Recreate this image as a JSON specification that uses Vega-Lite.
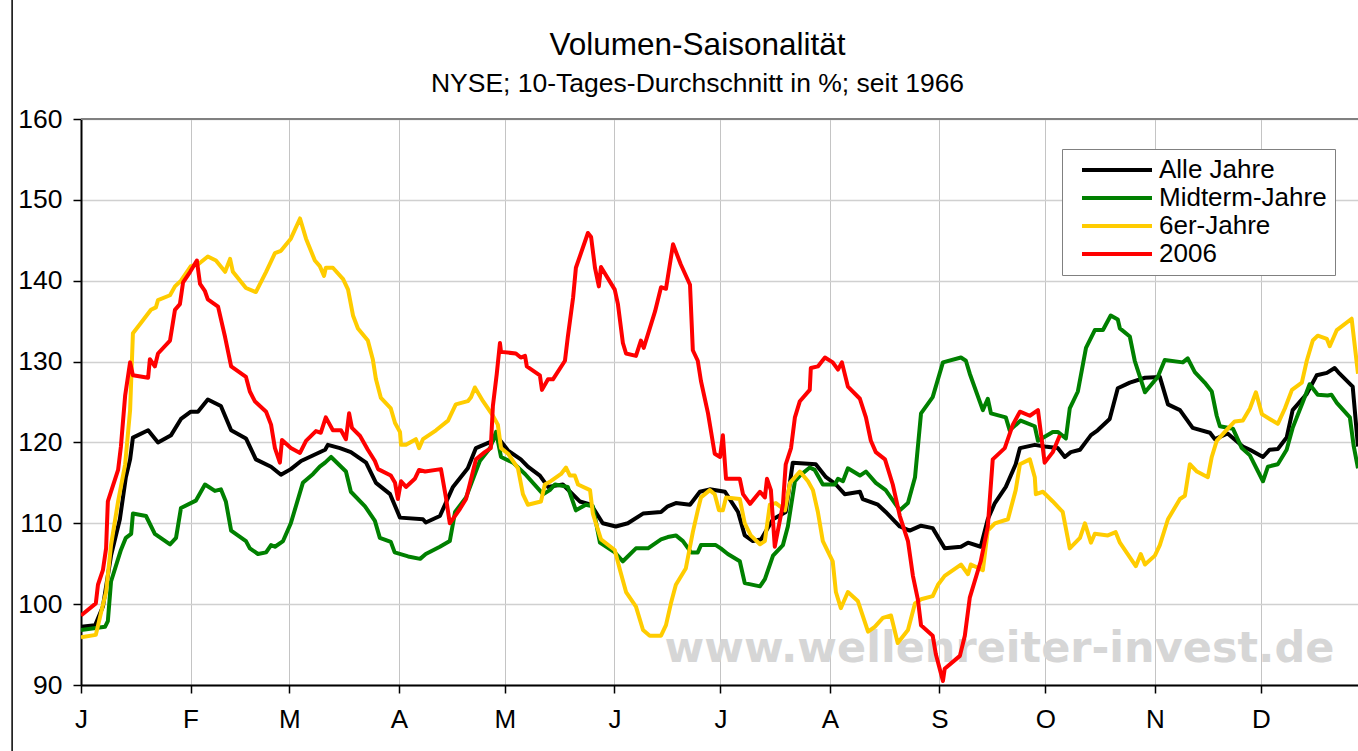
{
"$schema":"https://vega.github.io/schema/vega-lite/v6.json",
"width":1277,"height":566,
"autosize":{"type":"none"},
"padding":{"left":81,"top":119,"right":0,"bottom":66},
"background":"white",
"config":{"view":{"stroke":null},"font":"Liberation Sans"},
"title":{"text":"Volumen-Saisonalität","subtitle":"NYSE; 10-Tages-Durchschnitt in %; seit 1966","anchor":"middle","dx":-22,"dy":101,"offset":0,"fontSize":31.5,"fontWeight":"normal","font":"Liberation Sans","color":"black","subtitleFont":"Liberation Sans","subtitleFontSize":26.5,"subtitleColor":"black","subtitlePadding":10},
"datasets":{"serien":[
{"Reihe":"Alle Jahre","Tag":0,"Wert":97.2},{"Reihe":"Alle Jahre","Tag":4.0,"Wert":97.4},{"Reihe":"Alle Jahre","Tag":6.2,"Wert":99.7},{"Reihe":"Alle Jahre","Tag":8.5,"Wert":106.0},{"Reihe":"Alle Jahre","Tag":11.0,"Wert":110.5},{"Reihe":"Alle Jahre","Tag":12.7,"Wert":115.7},{"Reihe":"Alle Jahre","Tag":13.9,"Wert":117.9},{"Reihe":"Alle Jahre","Tag":14.7,"Wert":120.6},{"Reihe":"Alle Jahre","Tag":19.0,"Wert":121.5},{"Reihe":"Alle Jahre","Tag":21.8,"Wert":120.0},{"Reihe":"Alle Jahre","Tag":25.5,"Wert":120.9},{"Reihe":"Alle Jahre","Tag":28.3,"Wert":122.9},{"Reihe":"Alle Jahre","Tag":31.1,"Wert":123.8},{"Reihe":"Alle Jahre","Tag":33.1,"Wert":123.8},{"Reihe":"Alle Jahre","Tag":35.9,"Wert":125.3},{"Reihe":"Alle Jahre","Tag":39.6,"Wert":124.5},{"Reihe":"Alle Jahre","Tag":42.5,"Wert":121.5},{"Reihe":"Alle Jahre","Tag":46.7,"Wert":120.5},{"Reihe":"Alle Jahre","Tag":49.5,"Wert":117.9},{"Reihe":"Alle Jahre","Tag":53.8,"Wert":117.0},{"Reihe":"Alle Jahre","Tag":56.6,"Wert":116.0},{"Reihe":"Alle Jahre","Tag":59.4,"Wert":116.7},{"Reihe":"Alle Jahre","Tag":62.3,"Wert":117.7},{"Reihe":"Alle Jahre","Tag":69.1,"Wert":119.1},{"Reihe":"Alle Jahre","Tag":69.9,"Wert":119.7},{"Reihe":"Alle Jahre","Tag":73.3,"Wert":119.3},{"Reihe":"Alle Jahre","Tag":76.4,"Wert":118.8},{"Reihe":"Alle Jahre","Tag":80.7,"Wert":117.5},{"Reihe":"Alle Jahre","Tag":83.5,"Wert":115.0},{"Reihe":"Alle Jahre","Tag":87.5,"Wert":113.6},{"Reihe":"Alle Jahre","Tag":90.3,"Wert":110.7},{"Reihe":"Alle Jahre","Tag":96.8,"Wert":110.5},{"Reihe":"Alle Jahre","Tag":97.6,"Wert":110.1},{"Reihe":"Alle Jahre","Tag":101.6,"Wert":110.9},{"Reihe":"Alle Jahre","Tag":105.3,"Wert":114.5},{"Reihe":"Alle Jahre","Tag":109.5,"Wert":116.8},{"Reihe":"Alle Jahre","Tag":111.8,"Wert":119.3},{"Reihe":"Alle Jahre","Tag":116.6,"Wert":120.2},{"Reihe":"Alle Jahre","Tag":117.5,"Wert":120.9},{"Reihe":"Alle Jahre","Tag":120.9,"Wert":119.0},{"Reihe":"Alle Jahre","Tag":124.5,"Wert":117.9},{"Reihe":"Alle Jahre","Tag":126.5,"Wert":117.0},{"Reihe":"Alle Jahre","Tag":129.9,"Wert":115.9},{"Reihe":"Alle Jahre","Tag":132.2,"Wert":114.5},{"Reihe":"Alle Jahre","Tag":136.4,"Wert":114.8},{"Reihe":"Alle Jahre","Tag":141.2,"Wert":112.7},{"Reihe":"Alle Jahre","Tag":144.4,"Wert":112.3},{"Reihe":"Alle Jahre","Tag":147.7,"Wert":110.0},{"Reihe":"Alle Jahre","Tag":151.4,"Wert":109.6},{"Reihe":"Alle Jahre","Tag":154.8,"Wert":110.0},{"Reihe":"Alle Jahre","Tag":159.1,"Wert":111.2},{"Reihe":"Alle Jahre","Tag":164.2,"Wert":111.4},{"Reihe":"Alle Jahre","Tag":166.1,"Wert":112.1},{"Reihe":"Alle Jahre","Tag":168.4,"Wert":112.5},{"Reihe":"Alle Jahre","Tag":172.4,"Wert":112.3},{"Reihe":"Alle Jahre","Tag":175.2,"Wert":113.9},{"Reihe":"Alle Jahre","Tag":178.0,"Wert":114.2},{"Reihe":"Alle Jahre","Tag":182.3,"Wert":113.9},{"Reihe":"Alle Jahre","Tag":186.0,"Wert":111.4},{"Reihe":"Alle Jahre","Tag":187.9,"Wert":108.5},{"Reihe":"Alle Jahre","Tag":190.2,"Wert":107.8},{"Reihe":"Alle Jahre","Tag":192.5,"Wert":108.0},{"Reihe":"Alle Jahre","Tag":195.9,"Wert":110.5},{"Reihe":"Alle Jahre","Tag":199.5,"Wert":111.4},{"Reihe":"Alle Jahre","Tag":201.5,"Wert":117.5},{"Reihe":"Alle Jahre","Tag":208.0,"Wert":117.3},{"Reihe":"Alle Jahre","Tag":210.9,"Wert":115.7},{"Reihe":"Alle Jahre","Tag":213.7,"Wert":114.8},{"Reihe":"Alle Jahre","Tag":216.2,"Wert":113.6},{"Reihe":"Alle Jahre","Tag":220.5,"Wert":113.9},{"Reihe":"Alle Jahre","Tag":221.3,"Wert":113.0},{"Reihe":"Alle Jahre","Tag":225.6,"Wert":112.3},{"Reihe":"Alle Jahre","Tag":227.8,"Wert":111.4},{"Reihe":"Alle Jahre","Tag":231.8,"Wert":109.6},{"Reihe":"Alle Jahre","Tag":234.6,"Wert":109.1},{"Reihe":"Alle Jahre","Tag":237.8,"Wert":109.7},{"Reihe":"Alle Jahre","Tag":241.1,"Wert":109.4},{"Reihe":"Alle Jahre","Tag":244.5,"Wert":106.9},{"Reihe":"Alle Jahre","Tag":249.1,"Wert":107.1},{"Reihe":"Alle Jahre","Tag":251.1,"Wert":107.6},{"Reihe":"Alle Jahre","Tag":254.7,"Wert":107.1},{"Reihe":"Alle Jahre","Tag":256.7,"Wert":110.5},{"Reihe":"Alle Jahre","Tag":258.7,"Wert":112.5},{"Reihe":"Alle Jahre","Tag":261.8,"Wert":114.5},{"Reihe":"Alle Jahre","Tag":264.6,"Wert":117.3},{"Reihe":"Alle Jahre","Tag":265.8,"Wert":119.3},{"Reihe":"Alle Jahre","Tag":270.0,"Wert":119.7},{"Reihe":"Alle Jahre","Tag":272.8,"Wert":119.5},{"Reihe":"Alle Jahre","Tag":276.5,"Wert":119.3},{"Reihe":"Alle Jahre","Tag":278.5,"Wert":118.2},{"Reihe":"Alle Jahre","Tag":280.2,"Wert":118.8},{"Reihe":"Alle Jahre","Tag":282.8,"Wert":119.1},{"Reihe":"Alle Jahre","Tag":285.9,"Wert":120.9},{"Reihe":"Alle Jahre","Tag":287.8,"Wert":121.5},{"Reihe":"Alle Jahre","Tag":291.2,"Wert":122.9},{"Reihe":"Alle Jahre","Tag":293.5,"Wert":126.7},{"Reihe":"Alle Jahre","Tag":296.9,"Wert":127.4},{"Reihe":"Alle Jahre","Tag":301.2,"Wert":128.0},{"Reihe":"Alle Jahre","Tag":305.4,"Wert":128.1},{"Reihe":"Alle Jahre","Tag":307.7,"Wert":124.7},{"Reihe":"Alle Jahre","Tag":311.1,"Wert":124.0},{"Reihe":"Alle Jahre","Tag":314.7,"Wert":121.8},{"Reihe":"Alle Jahre","Tag":319.6,"Wert":121.2},{"Reihe":"Alle Jahre","Tag":321.0,"Wert":120.4},{"Reihe":"Alle Jahre","Tag":324.6,"Wert":121.1},{"Reihe":"Alle Jahre","Tag":328.9,"Wert":119.5},{"Reihe":"Alle Jahre","Tag":330.9,"Wert":119.1},{"Reihe":"Alle Jahre","Tag":334.6,"Wert":118.2},{"Reihe":"Alle Jahre","Tag":336.5,"Wert":119.1},{"Reihe":"Alle Jahre","Tag":338.8,"Wert":119.2},{"Reihe":"Alle Jahre","Tag":341.3,"Wert":120.6},{"Reihe":"Alle Jahre","Tag":343.0,"Wert":124.0},{"Reihe":"Alle Jahre","Tag":347.0,"Wert":126.0},{"Reihe":"Alle Jahre","Tag":349.8,"Wert":128.3},{"Reihe":"Alle Jahre","Tag":352.7,"Wert":128.6},{"Reihe":"Alle Jahre","Tag":354.9,"Wert":129.2},{"Reihe":"Alle Jahre","Tag":356.3,"Wert":128.5},{"Reihe":"Alle Jahre","Tag":360.0,"Wert":126.9},{"Reihe":"Alle Jahre","Tag":361.5,"Wert":119.5},
{"Reihe":"Midterm-Jahre","Tag":0,"Wert":96.8},{"Reihe":"Midterm-Jahre","Tag":6.8,"Wert":97.2},{"Reihe":"Midterm-Jahre","Tag":7.6,"Wert":97.9},{"Reihe":"Midterm-Jahre","Tag":8.5,"Wert":102.8},{"Reihe":"Midterm-Jahre","Tag":11.3,"Wert":106.7},{"Reihe":"Midterm-Jahre","Tag":12.7,"Wert":108.2},{"Reihe":"Midterm-Jahre","Tag":14.2,"Wert":108.7},{"Reihe":"Midterm-Jahre","Tag":14.7,"Wert":111.2},{"Reihe":"Midterm-Jahre","Tag":18.4,"Wert":110.9},{"Reihe":"Midterm-Jahre","Tag":20.9,"Wert":108.7},{"Reihe":"Midterm-Jahre","Tag":25.2,"Wert":107.4},{"Reihe":"Midterm-Jahre","Tag":26.9,"Wert":108.2},{"Reihe":"Midterm-Jahre","Tag":28.3,"Wert":111.9},{"Reihe":"Midterm-Jahre","Tag":32.5,"Wert":112.8},{"Reihe":"Midterm-Jahre","Tag":35.1,"Wert":114.8},{"Reihe":"Midterm-Jahre","Tag":37.9,"Wert":114.0},{"Reihe":"Midterm-Jahre","Tag":39.6,"Wert":114.2},{"Reihe":"Midterm-Jahre","Tag":41.0,"Wert":112.7},{"Reihe":"Midterm-Jahre","Tag":42.5,"Wert":109.1},{"Reihe":"Midterm-Jahre","Tag":46.7,"Wert":107.8},{"Reihe":"Midterm-Jahre","Tag":47.8,"Wert":106.9},{"Reihe":"Midterm-Jahre","Tag":50.1,"Wert":106.2},{"Reihe":"Midterm-Jahre","Tag":52.4,"Wert":106.4},{"Reihe":"Midterm-Jahre","Tag":53.8,"Wert":107.3},{"Reihe":"Midterm-Jahre","Tag":54.9,"Wert":107.1},{"Reihe":"Midterm-Jahre","Tag":57.2,"Wert":107.8},{"Reihe":"Midterm-Jahre","Tag":59.4,"Wert":110.0},{"Reihe":"Midterm-Jahre","Tag":62.8,"Wert":115.0},{"Reihe":"Midterm-Jahre","Tag":65.7,"Wert":116.1},{"Reihe":"Midterm-Jahre","Tag":67.6,"Wert":117.0},{"Reihe":"Midterm-Jahre","Tag":69.1,"Wert":117.5},{"Reihe":"Midterm-Jahre","Tag":70.8,"Wert":118.2},{"Reihe":"Midterm-Jahre","Tag":75.0,"Wert":116.4},{"Reihe":"Midterm-Jahre","Tag":76.4,"Wert":113.9},{"Reihe":"Midterm-Jahre","Tag":80.4,"Wert":112.1},{"Reihe":"Midterm-Jahre","Tag":83.2,"Wert":110.3},{"Reihe":"Midterm-Jahre","Tag":84.6,"Wert":108.2},{"Reihe":"Midterm-Jahre","Tag":87.7,"Wert":107.7},{"Reihe":"Midterm-Jahre","Tag":88.8,"Wert":106.4},{"Reihe":"Midterm-Jahre","Tag":92.6,"Wert":105.9},{"Reihe":"Midterm-Jahre","Tag":96.0,"Wert":105.6},{"Reihe":"Midterm-Jahre","Tag":97.6,"Wert":106.2},{"Reihe":"Midterm-Jahre","Tag":101.6,"Wert":107.1},{"Reihe":"Midterm-Jahre","Tag":104.4,"Wert":107.8},{"Reihe":"Midterm-Jahre","Tag":105.9,"Wert":111.4},{"Reihe":"Midterm-Jahre","Tag":109.0,"Wert":113.2},{"Reihe":"Midterm-Jahre","Tag":112.9,"Wert":117.7},{"Reihe":"Midterm-Jahre","Tag":115.8,"Wert":119.3},{"Reihe":"Midterm-Jahre","Tag":117.5,"Wert":121.3},{"Reihe":"Midterm-Jahre","Tag":118.9,"Wert":118.2},{"Reihe":"Midterm-Jahre","Tag":122.3,"Wert":117.5},{"Reihe":"Midterm-Jahre","Tag":125.7,"Wert":116.1},{"Reihe":"Midterm-Jahre","Tag":130.8,"Wert":113.6},{"Reihe":"Midterm-Jahre","Tag":132.7,"Wert":114.1},{"Reihe":"Midterm-Jahre","Tag":134.2,"Wert":114.8},{"Reihe":"Midterm-Jahre","Tag":137.8,"Wert":114.5},{"Reihe":"Midterm-Jahre","Tag":140.1,"Wert":111.6},{"Reihe":"Midterm-Jahre","Tag":142.9,"Wert":112.3},{"Reihe":"Midterm-Jahre","Tag":144.9,"Wert":112.1},{"Reihe":"Midterm-Jahre","Tag":146.9,"Wert":107.6},{"Reihe":"Midterm-Jahre","Tag":151.1,"Wert":106.4},{"Reihe":"Midterm-Jahre","Tag":153.4,"Wert":105.3},{"Reihe":"Midterm-Jahre","Tag":157.1,"Wert":106.9},{"Reihe":"Midterm-Jahre","Tag":160.5,"Wert":106.9},{"Reihe":"Midterm-Jahre","Tag":164.2,"Wert":108.0},{"Reihe":"Midterm-Jahre","Tag":166.1,"Wert":108.3},{"Reihe":"Midterm-Jahre","Tag":168.4,"Wert":108.5},{"Reihe":"Midterm-Jahre","Tag":170.4,"Wert":107.8},{"Reihe":"Midterm-Jahre","Tag":172.7,"Wert":106.4},{"Reihe":"Midterm-Jahre","Tag":174.6,"Wert":106.4},{"Reihe":"Midterm-Jahre","Tag":175.5,"Wert":107.3},{"Reihe":"Midterm-Jahre","Tag":179.7,"Wert":107.3},{"Reihe":"Midterm-Jahre","Tag":181.1,"Wert":106.9},{"Reihe":"Midterm-Jahre","Tag":183.1,"Wert":106.2},{"Reihe":"Midterm-Jahre","Tag":186.5,"Wert":105.3},{"Reihe":"Midterm-Jahre","Tag":187.9,"Wert":102.6},{"Reihe":"Midterm-Jahre","Tag":192.2,"Wert":102.2},{"Reihe":"Midterm-Jahre","Tag":193.6,"Wert":103.1},{"Reihe":"Midterm-Jahre","Tag":195.9,"Wert":106.0},{"Reihe":"Midterm-Jahre","Tag":198.7,"Wert":107.3},{"Reihe":"Midterm-Jahre","Tag":200.1,"Wert":109.6},{"Reihe":"Midterm-Jahre","Tag":202.1,"Wert":115.2},{"Reihe":"Midterm-Jahre","Tag":203.5,"Wert":115.9},{"Reihe":"Midterm-Jahre","Tag":206.3,"Wert":116.9},{"Reihe":"Midterm-Jahre","Tag":207.7,"Wert":116.6},{"Reihe":"Midterm-Jahre","Tag":210.0,"Wert":114.8},{"Reihe":"Midterm-Jahre","Tag":213.4,"Wert":114.8},{"Reihe":"Midterm-Jahre","Tag":214.3,"Wert":115.5},{"Reihe":"Midterm-Jahre","Tag":215.7,"Wert":115.2},{"Reihe":"Midterm-Jahre","Tag":217.1,"Wert":116.8},{"Reihe":"Midterm-Jahre","Tag":220.5,"Wert":115.9},{"Reihe":"Midterm-Jahre","Tag":222.2,"Wert":116.4},{"Reihe":"Midterm-Jahre","Tag":225.0,"Wert":115.0},{"Reihe":"Midterm-Jahre","Tag":227.8,"Wert":114.1},{"Reihe":"Midterm-Jahre","Tag":231.8,"Wert":111.6},{"Reihe":"Midterm-Jahre","Tag":234.1,"Wert":112.5},{"Reihe":"Midterm-Jahre","Tag":236.1,"Wert":115.7},{"Reihe":"Midterm-Jahre","Tag":237.8,"Wert":123.6},{"Reihe":"Midterm-Jahre","Tag":241.1,"Wert":125.6},{"Reihe":"Midterm-Jahre","Tag":244.0,"Wert":129.9},{"Reihe":"Midterm-Jahre","Tag":249.1,"Wert":130.5},{"Reihe":"Midterm-Jahre","Tag":250.5,"Wert":130.1},{"Reihe":"Midterm-Jahre","Tag":251.6,"Wert":128.5},{"Reihe":"Midterm-Jahre","Tag":255.3,"Wert":124.0},{"Reihe":"Midterm-Jahre","Tag":256.7,"Wert":125.4},{"Reihe":"Midterm-Jahre","Tag":257.6,"Wert":123.6},{"Reihe":"Midterm-Jahre","Tag":261.8,"Wert":123.1},{"Reihe":"Midterm-Jahre","Tag":262.9,"Wert":121.5},{"Reihe":"Midterm-Jahre","Tag":266.0,"Wert":122.7},{"Reihe":"Midterm-Jahre","Tag":270.0,"Wert":122.0},{"Reihe":"Midterm-Jahre","Tag":270.9,"Wert":120.2},{"Reihe":"Midterm-Jahre","Tag":275.1,"Wert":121.3},{"Reihe":"Midterm-Jahre","Tag":276.5,"Wert":121.3},{"Reihe":"Midterm-Jahre","Tag":278.8,"Wert":120.5},{"Reihe":"Midterm-Jahre","Tag":279.9,"Wert":124.2},{"Reihe":"Midterm-Jahre","Tag":282.2,"Wert":126.3},{"Reihe":"Midterm-Jahre","Tag":284.5,"Wert":131.7},{"Reihe":"Midterm-Jahre","Tag":287.0,"Wert":133.9},{"Reihe":"Midterm-Jahre","Tag":289.3,"Wert":133.9},{"Reihe":"Midterm-Jahre","Tag":291.5,"Wert":135.7},{"Reihe":"Midterm-Jahre","Tag":293.5,"Wert":135.2},{"Reihe":"Midterm-Jahre","Tag":294.1,"Wert":134.1},{"Reihe":"Midterm-Jahre","Tag":296.9,"Wert":133.1},{"Reihe":"Midterm-Jahre","Tag":298.3,"Wert":130.1},{"Reihe":"Midterm-Jahre","Tag":301.2,"Wert":126.2},{"Reihe":"Midterm-Jahre","Tag":304.8,"Wert":128.1},{"Reihe":"Midterm-Jahre","Tag":306.8,"Wert":130.2},{"Reihe":"Midterm-Jahre","Tag":311.9,"Wert":129.9},{"Reihe":"Midterm-Jahre","Tag":313.3,"Wert":130.4},{"Reihe":"Midterm-Jahre","Tag":315.3,"Wert":128.7},{"Reihe":"Midterm-Jahre","Tag":318.1,"Wert":127.4},{"Reihe":"Midterm-Jahre","Tag":320.1,"Wert":126.3},{"Reihe":"Midterm-Jahre","Tag":321.5,"Wert":123.3},{"Reihe":"Midterm-Jahre","Tag":322.4,"Wert":122.0},{"Reihe":"Midterm-Jahre","Tag":326.1,"Wert":121.7},{"Reihe":"Midterm-Jahre","Tag":328.6,"Wert":119.3},{"Reihe":"Midterm-Jahre","Tag":330.9,"Wert":118.4},{"Reihe":"Midterm-Jahre","Tag":334.6,"Wert":115.2},{"Reihe":"Midterm-Jahre","Tag":336.0,"Wert":117.0},{"Reihe":"Midterm-Jahre","Tag":338.8,"Wert":117.3},{"Reihe":"Midterm-Jahre","Tag":341.3,"Wert":119.1},{"Reihe":"Midterm-Jahre","Tag":343.0,"Wert":121.8},{"Reihe":"Midterm-Jahre","Tag":345.8,"Wert":124.9},{"Reihe":"Midterm-Jahre","Tag":347.8,"Wert":127.2},{"Reihe":"Midterm-Jahre","Tag":350.1,"Wert":125.9},{"Reihe":"Midterm-Jahre","Tag":352.9,"Wert":125.8},{"Reihe":"Midterm-Jahre","Tag":354.0,"Wert":125.9},{"Reihe":"Midterm-Jahre","Tag":355.5,"Wert":124.9},{"Reihe":"Midterm-Jahre","Tag":359.2,"Wert":123.1},{"Reihe":"Midterm-Jahre","Tag":360.3,"Wert":119.5},{"Reihe":"Midterm-Jahre","Tag":361.5,"Wert":116.8},
{"Reihe":"6er-Jahre","Tag":0,"Wert":95.9},{"Reihe":"6er-Jahre","Tag":4.2,"Wert":96.2},{"Reihe":"6er-Jahre","Tag":5.7,"Wert":99.0},{"Reihe":"6er-Jahre","Tag":7.1,"Wert":101.5},{"Reihe":"6er-Jahre","Tag":8.5,"Wert":107.3},{"Reihe":"6er-Jahre","Tag":10.5,"Wert":112.7},{"Reihe":"6er-Jahre","Tag":12.5,"Wert":117.3},{"Reihe":"6er-Jahre","Tag":13.9,"Wert":124.0},{"Reihe":"6er-Jahre","Tag":14.7,"Wert":133.5},{"Reihe":"6er-Jahre","Tag":17.0,"Wert":134.8},{"Reihe":"6er-Jahre","Tag":19.8,"Wert":136.4},{"Reihe":"6er-Jahre","Tag":21.2,"Wert":136.7},{"Reihe":"6er-Jahre","Tag":21.8,"Wert":137.6},{"Reihe":"6er-Jahre","Tag":25.2,"Wert":138.2},{"Reihe":"6er-Jahre","Tag":26.6,"Wert":139.3},{"Reihe":"6er-Jahre","Tag":28.3,"Wert":140.0},{"Reihe":"6er-Jahre","Tag":31.1,"Wert":141.8},{"Reihe":"6er-Jahre","Tag":33.1,"Wert":142.0},{"Reihe":"6er-Jahre","Tag":35.9,"Wert":143.0},{"Reihe":"6er-Jahre","Tag":38.2,"Wert":142.5},{"Reihe":"6er-Jahre","Tag":40.8,"Wert":141.1},{"Reihe":"6er-Jahre","Tag":42.2,"Wert":142.7},{"Reihe":"6er-Jahre","Tag":43.0,"Wert":141.1},{"Reihe":"6er-Jahre","Tag":46.7,"Wert":139.1},{"Reihe":"6er-Jahre","Tag":49.5,"Wert":138.6},{"Reihe":"6er-Jahre","Tag":52.4,"Wert":141.1},{"Reihe":"6er-Jahre","Tag":54.9,"Wert":143.4},{"Reihe":"6er-Jahre","Tag":56.6,"Wert":143.7},{"Reihe":"6er-Jahre","Tag":59.4,"Wert":145.2},{"Reihe":"6er-Jahre","Tag":62.0,"Wert":147.7},{"Reihe":"6er-Jahre","Tag":63.7,"Wert":145.2},{"Reihe":"6er-Jahre","Tag":66.2,"Wert":142.5},{"Reihe":"6er-Jahre","Tag":67.6,"Wert":141.8},{"Reihe":"6er-Jahre","Tag":68.8,"Wert":140.6},{"Reihe":"6er-Jahre","Tag":69.3,"Wert":141.6},{"Reihe":"6er-Jahre","Tag":71.3,"Wert":141.6},{"Reihe":"6er-Jahre","Tag":74.2,"Wert":140.2},{"Reihe":"6er-Jahre","Tag":75.6,"Wert":138.9},{"Reihe":"6er-Jahre","Tag":77.0,"Wert":135.7},{"Reihe":"6er-Jahre","Tag":78.4,"Wert":134.1},{"Reihe":"6er-Jahre","Tag":81.2,"Wert":132.6},{"Reihe":"6er-Jahre","Tag":82.6,"Wert":130.3},{"Reihe":"6er-Jahre","Tag":83.5,"Wert":127.8},{"Reihe":"6er-Jahre","Tag":84.9,"Wert":125.5},{"Reihe":"6er-Jahre","Tag":87.7,"Wert":124.2},{"Reihe":"6er-Jahre","Tag":88.9,"Wert":122.4},{"Reihe":"6er-Jahre","Tag":90.3,"Wert":121.3},{"Reihe":"6er-Jahre","Tag":90.6,"Wert":119.7},{"Reihe":"6er-Jahre","Tag":92.0,"Wert":119.7},{"Reihe":"6er-Jahre","Tag":94.8,"Wert":120.4},{"Reihe":"6er-Jahre","Tag":95.7,"Wert":119.3},{"Reihe":"6er-Jahre","Tag":96.8,"Wert":120.4},{"Reihe":"6er-Jahre","Tag":100.5,"Wert":121.5},{"Reihe":"6er-Jahre","Tag":103.9,"Wert":122.7},{"Reihe":"6er-Jahre","Tag":106.1,"Wert":124.7},{"Reihe":"6er-Jahre","Tag":109.5,"Wert":125.1},{"Reihe":"6er-Jahre","Tag":110.4,"Wert":125.6},{"Reihe":"6er-Jahre","Tag":111.5,"Wert":126.8},{"Reihe":"6er-Jahre","Tag":113.8,"Wert":125.1},{"Reihe":"6er-Jahre","Tag":116.6,"Wert":123.3},{"Reihe":"6er-Jahre","Tag":118.0,"Wert":122.2},{"Reihe":"6er-Jahre","Tag":118.9,"Wert":119.3},{"Reihe":"6er-Jahre","Tag":120.9,"Wert":118.6},{"Reihe":"6er-Jahre","Tag":123.7,"Wert":116.8},{"Reihe":"6er-Jahre","Tag":125.1,"Wert":113.6},{"Reihe":"6er-Jahre","Tag":126.5,"Wert":112.3},{"Reihe":"6er-Jahre","Tag":130.2,"Wert":112.7},{"Reihe":"6er-Jahre","Tag":131.3,"Wert":114.8},{"Reihe":"6er-Jahre","Tag":133.0,"Wert":115.2},{"Reihe":"6er-Jahre","Tag":135.9,"Wert":116.1},{"Reihe":"6er-Jahre","Tag":137.3,"Wert":116.9},{"Reihe":"6er-Jahre","Tag":138.4,"Wert":115.9},{"Reihe":"6er-Jahre","Tag":139.8,"Wert":115.9},{"Reihe":"6er-Jahre","Tag":140.7,"Wert":114.8},{"Reihe":"6er-Jahre","Tag":144.1,"Wert":114.1},{"Reihe":"6er-Jahre","Tag":144.9,"Wert":111.2},{"Reihe":"6er-Jahre","Tag":147.2,"Wert":108.0},{"Reihe":"6er-Jahre","Tag":151.1,"Wert":106.7},{"Reihe":"6er-Jahre","Tag":152.6,"Wert":104.2},{"Reihe":"6er-Jahre","Tag":154.3,"Wert":101.5},{"Reihe":"6er-Jahre","Tag":157.1,"Wert":99.7},{"Reihe":"6er-Jahre","Tag":159.1,"Wert":96.8},{"Reihe":"6er-Jahre","Tag":161.0,"Wert":96.1},{"Reihe":"6er-Jahre","Tag":164.2,"Wert":96.1},{"Reihe":"6er-Jahre","Tag":165.6,"Wert":97.4},{"Reihe":"6er-Jahre","Tag":167.0,"Wert":100.1},{"Reihe":"6er-Jahre","Tag":168.4,"Wert":102.4},{"Reihe":"6er-Jahre","Tag":171.2,"Wert":104.4},{"Reihe":"6er-Jahre","Tag":173.2,"Wert":108.9},{"Reihe":"6er-Jahre","Tag":174.6,"Wert":111.6},{"Reihe":"6er-Jahre","Tag":175.5,"Wert":113.2},{"Reihe":"6er-Jahre","Tag":178.0,"Wert":114.1},{"Reihe":"6er-Jahre","Tag":179.4,"Wert":113.6},{"Reihe":"6er-Jahre","Tag":180.6,"Wert":111.6},{"Reihe":"6er-Jahre","Tag":181.7,"Wert":111.6},{"Reihe":"6er-Jahre","Tag":182.6,"Wert":113.2},{"Reihe":"6er-Jahre","Tag":186.5,"Wert":113.0},{"Reihe":"6er-Jahre","Tag":187.9,"Wert":110.0},{"Reihe":"6er-Jahre","Tag":189.6,"Wert":108.5},{"Reihe":"6er-Jahre","Tag":192.2,"Wert":107.4},{"Reihe":"6er-Jahre","Tag":193.6,"Wert":107.8},{"Reihe":"6er-Jahre","Tag":195.0,"Wert":112.3},{"Reihe":"6er-Jahre","Tag":196.7,"Wert":112.5},{"Reihe":"6er-Jahre","Tag":199.3,"Wert":111.6},{"Reihe":"6er-Jahre","Tag":200.7,"Wert":115.0},{"Reihe":"6er-Jahre","Tag":203.5,"Wert":116.4},{"Reihe":"6er-Jahre","Tag":205.8,"Wert":115.2},{"Reihe":"6er-Jahre","Tag":207.2,"Wert":114.1},{"Reihe":"6er-Jahre","Tag":208.6,"Wert":111.4},{"Reihe":"6er-Jahre","Tag":210.0,"Wert":107.8},{"Reihe":"6er-Jahre","Tag":212.8,"Wert":105.3},{"Reihe":"6er-Jahre","Tag":213.7,"Wert":101.5},{"Reihe":"6er-Jahre","Tag":215.1,"Wert":99.5},{"Reihe":"6er-Jahre","Tag":217.1,"Wert":101.5},{"Reihe":"6er-Jahre","Tag":219.9,"Wert":100.4},{"Reihe":"6er-Jahre","Tag":222.8,"Wert":96.6},{"Reihe":"6er-Jahre","Tag":224.7,"Wert":97.2},{"Reihe":"6er-Jahre","Tag":227.0,"Wert":98.3},{"Reihe":"6er-Jahre","Tag":229.3,"Wert":98.6},{"Reihe":"6er-Jahre","Tag":231.2,"Wert":95.2},{"Reihe":"6er-Jahre","Tag":234.1,"Wert":96.8},{"Reihe":"6er-Jahre","Tag":236.1,"Wert":100.1},{"Reihe":"6er-Jahre","Tag":237.8,"Wert":100.6},{"Reihe":"6er-Jahre","Tag":241.1,"Wert":101.0},{"Reihe":"6er-Jahre","Tag":242.6,"Wert":102.4},{"Reihe":"6er-Jahre","Tag":244.5,"Wert":103.5},{"Reihe":"6er-Jahre","Tag":249.1,"Wert":104.9},{"Reihe":"6er-Jahre","Tag":251.1,"Wert":103.7},{"Reihe":"6er-Jahre","Tag":251.9,"Wert":104.9},{"Reihe":"6er-Jahre","Tag":255.3,"Wert":104.2},{"Reihe":"6er-Jahre","Tag":256.7,"Wert":109.1},{"Reihe":"6er-Jahre","Tag":258.7,"Wert":110.0},{"Reihe":"6er-Jahre","Tag":262.4,"Wert":110.5},{"Reihe":"6er-Jahre","Tag":264.6,"Wert":114.1},{"Reihe":"6er-Jahre","Tag":265.8,"Wert":117.3},{"Reihe":"6er-Jahre","Tag":268.6,"Wert":117.9},{"Reihe":"6er-Jahre","Tag":270.0,"Wert":115.7},{"Reihe":"6er-Jahre","Tag":270.3,"Wert":113.6},{"Reihe":"6er-Jahre","Tag":272.3,"Wert":113.9},{"Reihe":"6er-Jahre","Tag":275.1,"Wert":112.7},{"Reihe":"6er-Jahre","Tag":277.9,"Wert":111.4},{"Reihe":"6er-Jahre","Tag":279.9,"Wert":106.9},{"Reihe":"6er-Jahre","Tag":282.8,"Wert":108.2},{"Reihe":"6er-Jahre","Tag":284.2,"Wert":110.0},{"Reihe":"6er-Jahre","Tag":285.9,"Wert":107.6},{"Reihe":"6er-Jahre","Tag":287.0,"Wert":108.7},{"Reihe":"6er-Jahre","Tag":290.7,"Wert":108.5},{"Reihe":"6er-Jahre","Tag":292.9,"Wert":108.9},{"Reihe":"6er-Jahre","Tag":294.1,"Wert":107.6},{"Reihe":"6er-Jahre","Tag":296.3,"Wert":106.2},{"Reihe":"6er-Jahre","Tag":298.6,"Wert":104.7},{"Reihe":"6er-Jahre","Tag":300.0,"Wert":106.2},{"Reihe":"6er-Jahre","Tag":301.2,"Wert":104.9},{"Reihe":"6er-Jahre","Tag":304.0,"Wert":106.0},{"Reihe":"6er-Jahre","Tag":305.4,"Wert":107.3},{"Reihe":"6er-Jahre","Tag":307.7,"Wert":110.5},{"Reihe":"6er-Jahre","Tag":311.1,"Wert":113.0},{"Reihe":"6er-Jahre","Tag":312.5,"Wert":113.4},{"Reihe":"6er-Jahre","Tag":313.9,"Wert":117.3},{"Reihe":"6er-Jahre","Tag":315.9,"Wert":116.4},{"Reihe":"6er-Jahre","Tag":319.0,"Wert":115.7},{"Reihe":"6er-Jahre","Tag":320.1,"Wert":118.2},{"Reihe":"6er-Jahre","Tag":321.5,"Wert":120.2},{"Reihe":"6er-Jahre","Tag":323.8,"Wert":121.3},{"Reihe":"6er-Jahre","Tag":326.6,"Wert":122.6},{"Reihe":"6er-Jahre","Tag":328.9,"Wert":122.7},{"Reihe":"6er-Jahre","Tag":330.9,"Wert":124.2},{"Reihe":"6er-Jahre","Tag":332.6,"Wert":126.2},{"Reihe":"6er-Jahre","Tag":334.3,"Wert":123.5},{"Reihe":"6er-Jahre","Tag":336.5,"Wert":122.9},{"Reihe":"6er-Jahre","Tag":338.8,"Wert":122.3},{"Reihe":"6er-Jahre","Tag":340.8,"Wert":124.2},{"Reihe":"6er-Jahre","Tag":342.8,"Wert":126.5},{"Reihe":"6er-Jahre","Tag":345.6,"Wert":127.4},{"Reihe":"6er-Jahre","Tag":347.0,"Wert":130.1},{"Reihe":"6er-Jahre","Tag":348.7,"Wert":132.6},{"Reihe":"6er-Jahre","Tag":350.1,"Wert":133.2},{"Reihe":"6er-Jahre","Tag":352.7,"Wert":132.8},{"Reihe":"6er-Jahre","Tag":353.5,"Wert":131.9},{"Reihe":"6er-Jahre","Tag":355.5,"Wert":133.9},{"Reihe":"6er-Jahre","Tag":359.7,"Wert":135.3},{"Reihe":"6er-Jahre","Tag":361.5,"Wert":128.5},
{"Reihe":"2006","Tag":0,"Wert":98.6},{"Reihe":"2006","Tag":4.2,"Wert":100.1},{"Reihe":"2006","Tag":4.8,"Wert":102.4},{"Reihe":"2006","Tag":6.2,"Wert":104.2},{"Reihe":"2006","Tag":7.1,"Wert":106.9},{"Reihe":"2006","Tag":7.6,"Wert":112.7},{"Reihe":"2006","Tag":10.5,"Wert":116.6},{"Reihe":"2006","Tag":11.3,"Wert":119.5},{"Reihe":"2006","Tag":12.5,"Wert":125.8},{"Reihe":"2006","Tag":13.9,"Wert":129.9},{"Reihe":"2006","Tag":14.7,"Wert":128.3},{"Reihe":"2006","Tag":19.0,"Wert":128.0},{"Reihe":"2006","Tag":19.5,"Wert":130.3},{"Reihe":"2006","Tag":20.9,"Wert":129.4},{"Reihe":"2006","Tag":21.8,"Wert":131.0},{"Reihe":"2006","Tag":25.2,"Wert":132.6},{"Reihe":"2006","Tag":26.6,"Wert":136.4},{"Reihe":"2006","Tag":28.0,"Wert":137.1},{"Reihe":"2006","Tag":28.9,"Wert":139.8},{"Reihe":"2006","Tag":30.9,"Wert":141.1},{"Reihe":"2006","Tag":32.8,"Wert":142.5},{"Reihe":"2006","Tag":33.7,"Wert":139.6},{"Reihe":"2006","Tag":35.1,"Wert":138.7},{"Reihe":"2006","Tag":35.9,"Wert":137.7},{"Reihe":"2006","Tag":38.8,"Wert":136.8},{"Reihe":"2006","Tag":40.8,"Wert":133.0},{"Reihe":"2006","Tag":42.5,"Wert":129.4},{"Reihe":"2006","Tag":46.7,"Wert":128.1},{"Reihe":"2006","Tag":47.8,"Wert":126.3},{"Reihe":"2006","Tag":49.2,"Wert":125.1},{"Reihe":"2006","Tag":52.4,"Wert":123.8},{"Reihe":"2006","Tag":53.8,"Wert":122.2},{"Reihe":"2006","Tag":54.9,"Wert":119.3},{"Reihe":"2006","Tag":56.3,"Wert":117.5},{"Reihe":"2006","Tag":56.9,"Wert":120.3},{"Reihe":"2006","Tag":59.4,"Wert":119.3},{"Reihe":"2006","Tag":62.0,"Wert":118.7},{"Reihe":"2006","Tag":63.7,"Wert":120.2},{"Reihe":"2006","Tag":66.5,"Wert":121.4},{"Reihe":"2006","Tag":67.9,"Wert":121.2},{"Reihe":"2006","Tag":69.3,"Wert":123.1},{"Reihe":"2006","Tag":71.3,"Wert":121.5},{"Reihe":"2006","Tag":73.6,"Wert":121.5},{"Reihe":"2006","Tag":75.0,"Wert":120.4},{"Reihe":"2006","Tag":75.9,"Wert":123.6},{"Reihe":"2006","Tag":76.7,"Wert":121.8},{"Reihe":"2006","Tag":79.0,"Wert":120.8},{"Reihe":"2006","Tag":81.2,"Wert":119.1},{"Reihe":"2006","Tag":83.2,"Wert":117.7},{"Reihe":"2006","Tag":84.1,"Wert":116.7},{"Reihe":"2006","Tag":87.7,"Wert":115.9},{"Reihe":"2006","Tag":88.9,"Wert":115.0},{"Reihe":"2006","Tag":89.7,"Wert":113.0},{"Reihe":"2006","Tag":90.6,"Wert":115.2},{"Reihe":"2006","Tag":92.0,"Wert":114.5},{"Reihe":"2006","Tag":94.5,"Wert":115.5},{"Reihe":"2006","Tag":95.7,"Wert":116.6},{"Reihe":"2006","Tag":97.4,"Wert":116.4},{"Reihe":"2006","Tag":101.9,"Wert":116.7},{"Reihe":"2006","Tag":103.3,"Wert":113.2},{"Reihe":"2006","Tag":104.4,"Wert":110.0},{"Reihe":"2006","Tag":107.3,"Wert":111.8},{"Reihe":"2006","Tag":109.0,"Wert":113.0},{"Reihe":"2006","Tag":111.8,"Wert":117.9},{"Reihe":"2006","Tag":114.3,"Wert":118.8},{"Reihe":"2006","Tag":116.0,"Wert":119.3},{"Reihe":"2006","Tag":116.6,"Wert":124.5},{"Reihe":"2006","Tag":117.7,"Wert":128.5},{"Reihe":"2006","Tag":118.6,"Wert":132.3},{"Reihe":"2006","Tag":118.9,"Wert":131.2},{"Reihe":"2006","Tag":123.1,"Wert":131.0},{"Reihe":"2006","Tag":124.5,"Wert":130.5},{"Reihe":"2006","Tag":125.7,"Wert":130.7},{"Reihe":"2006","Tag":126.2,"Wert":129.4},{"Reihe":"2006","Tag":129.9,"Wert":128.3},{"Reihe":"2006","Tag":130.5,"Wert":126.5},{"Reihe":"2006","Tag":132.2,"Wert":127.8},{"Reihe":"2006","Tag":133.6,"Wert":127.8},{"Reihe":"2006","Tag":137.0,"Wert":130.1},{"Reihe":"2006","Tag":137.8,"Wert":133.0},{"Reihe":"2006","Tag":139.3,"Wert":137.9},{"Reihe":"2006","Tag":140.1,"Wert":141.6},{"Reihe":"2006","Tag":143.5,"Wert":145.9},{"Reihe":"2006","Tag":144.4,"Wert":145.4},{"Reihe":"2006","Tag":145.5,"Wert":141.6},{"Reihe":"2006","Tag":146.6,"Wert":139.3},{"Reihe":"2006","Tag":147.2,"Wert":141.7},{"Reihe":"2006","Tag":151.1,"Wert":138.9},{"Reihe":"2006","Tag":152.0,"Wert":137.1},{"Reihe":"2006","Tag":153.4,"Wert":132.3},{"Reihe":"2006","Tag":154.3,"Wert":131.0},{"Reihe":"2006","Tag":157.1,"Wert":130.7},{"Reihe":"2006","Tag":158.5,"Wert":132.6},{"Reihe":"2006","Tag":159.3,"Wert":131.7},{"Reihe":"2006","Tag":162.5,"Wert":136.2},{"Reihe":"2006","Tag":164.2,"Wert":139.2},{"Reihe":"2006","Tag":165.6,"Wert":139.0},{"Reihe":"2006","Tag":167.6,"Wert":144.5},{"Reihe":"2006","Tag":169.8,"Wert":142.0},{"Reihe":"2006","Tag":172.4,"Wert":139.5},{"Reihe":"2006","Tag":173.2,"Wert":131.4},{"Reihe":"2006","Tag":174.6,"Wert":130.1},{"Reihe":"2006","Tag":175.5,"Wert":127.6},{"Reihe":"2006","Tag":177.5,"Wert":123.6},{"Reihe":"2006","Tag":178.3,"Wert":121.5},{"Reihe":"2006","Tag":179.4,"Wert":118.6},{"Reihe":"2006","Tag":180.9,"Wert":118.2},{"Reihe":"2006","Tag":181.7,"Wert":120.9},{"Reihe":"2006","Tag":182.6,"Wert":115.5},{"Reihe":"2006","Tag":186.5,"Wert":115.5},{"Reihe":"2006","Tag":187.4,"Wert":113.6},{"Reihe":"2006","Tag":189.4,"Wert":112.4},{"Reihe":"2006","Tag":192.2,"Wert":113.9},{"Reihe":"2006","Tag":193.6,"Wert":113.2},{"Reihe":"2006","Tag":194.2,"Wert":115.5},{"Reihe":"2006","Tag":195.3,"Wert":114.1},{"Reihe":"2006","Tag":196.4,"Wert":107.1},{"Reihe":"2006","Tag":198.7,"Wert":112.3},{"Reihe":"2006","Tag":199.5,"Wert":117.3},{"Reihe":"2006","Tag":201.0,"Wert":119.3},{"Reihe":"2006","Tag":202.1,"Wert":123.1},{"Reihe":"2006","Tag":203.5,"Wert":125.1},{"Reihe":"2006","Tag":206.3,"Wert":126.5},{"Reihe":"2006","Tag":206.6,"Wert":129.2},{"Reihe":"2006","Tag":208.6,"Wert":129.4},{"Reihe":"2006","Tag":210.6,"Wert":130.5},{"Reihe":"2006","Tag":212.8,"Wert":129.9},{"Reihe":"2006","Tag":214.3,"Wert":129.0},{"Reihe":"2006","Tag":215.4,"Wert":129.9},{"Reihe":"2006","Tag":217.1,"Wert":126.9},{"Reihe":"2006","Tag":220.5,"Wert":125.4},{"Reihe":"2006","Tag":222.2,"Wert":123.1},{"Reihe":"2006","Tag":223.6,"Wert":120.2},{"Reihe":"2006","Tag":225.0,"Wert":118.8},{"Reihe":"2006","Tag":227.6,"Wert":117.9},{"Reihe":"2006","Tag":229.8,"Wert":114.8},{"Reihe":"2006","Tag":231.8,"Wert":110.9},{"Reihe":"2006","Tag":234.1,"Wert":107.8},{"Reihe":"2006","Tag":235.5,"Wert":103.5},{"Reihe":"2006","Tag":236.9,"Wert":100.6},{"Reihe":"2006","Tag":237.8,"Wert":97.4},{"Reihe":"2006","Tag":241.1,"Wert":96.1},{"Reihe":"2006","Tag":242.0,"Wert":93.8},{"Reihe":"2006","Tag":244.0,"Wert":90.5},{"Reihe":"2006","Tag":244.5,"Wert":92.0},{"Reihe":"2006","Tag":248.8,"Wert":93.6},{"Reihe":"2006","Tag":250.2,"Wert":96.1},{"Reihe":"2006","Tag":251.6,"Wert":100.8},{"Reihe":"2006","Tag":254.7,"Wert":105.3},{"Reihe":"2006","Tag":256.7,"Wert":109.6},{"Reihe":"2006","Tag":258.1,"Wert":117.9},{"Reihe":"2006","Tag":261.5,"Wert":119.3},{"Reihe":"2006","Tag":263.8,"Wert":122.2},{"Reihe":"2006","Tag":265.8,"Wert":123.8},{"Reihe":"2006","Tag":268.6,"Wert":123.3},{"Reihe":"2006","Tag":270.9,"Wert":124.0},{"Reihe":"2006","Tag":272.8,"Wert":117.5},{"Reihe":"2006","Tag":275.1,"Wert":118.8},{"Reihe":"2006","Tag":277.1,"Wert":120.9}
]},
"layer":[
{"data":{"values":[{"Tag":260,"Wert":92.9,"Text":"www.wellenreiter-invest.de"}]},
 "mark":{"type":"text","font":"DejaVu Sans","fontWeight":"bold","fontSize":43,"color":"#d6d6d6","align":"center","baseline":"alphabetic"},
 "encoding":{"x":{"field":"Tag","type":"quantitative","scale":{"domain":[0,361.5],"nice":false,"zero":false}},"y":{"field":"Wert","type":"quantitative","scale":{"domain":[90,160],"nice":false,"zero":false}},"text":{"field":"Text"}}},
{"data":{"values":[{"Tag":-19.5,"Wert":175,"Wert2":81}]},
 "mark":{"type":"rule","color":"black","strokeWidth":1.5,"clip":false},
 "encoding":{"x":{"field":"Tag","type":"quantitative"},"y":{"field":"Wert","type":"quantitative"},"y2":{"field":"Wert2"}}},
{"data":{"values":[{"Wert":160}]},
 "mark":{"type":"rule","color":"#808080","strokeWidth":2},
 "encoding":{"y":{"field":"Wert","type":"quantitative"}}},
{"data":{"name":"serien"},"transform":[{"filter":"datum.Reihe === 'Alle Jahre'"}],
 "mark":{"type":"line","strokeWidth":4,"strokeJoin":"round","clip":true},
 "encoding":{
  "x":{"field":"Tag","type":"quantitative","scale":{"domain":[0,361.5],"nice":false,"zero":false},
   "axis":{"title":null,"values":[0,31,59,90,120,151,181,212,243,273,304,334],"labelExpr":"['J','F','M','A','M','J','J','A','S','O','N','D'][indexof([0,31,59,90,120,151,181,212,243,273,304,334], datum.value)]","grid":true,"gridColor":"#c4c4c4","gridWidth":1,"domainColor":"black","domainWidth":2,"tickColor":"black","tickSize":8,"tickWidth":1.5,"labelFontSize":26,"labelFont":"Liberation Sans","labelColor":"black","labelPadding":13,"labelFlush":false,"labelOverlap":false,"labelAngle":0}},
  "y":{"field":"Wert","type":"quantitative","scale":{"domain":[90,160],"nice":false,"zero":false},
   "axis":{"title":null,"values":[90,100,110,120,130,140,150,160],"grid":true,"gridColor":"#d0d0d0","gridWidth":1.5,"domainColor":"black","domainWidth":2,"tickColor":"black","tickSize":8,"tickWidth":1.5,"labelFontSize":26.5,"labelFont":"Liberation Sans","labelColor":"black","labelPadding":11}},
  "color":{"field":"Reihe","type":"nominal","scale":{"domain":["Alle Jahre","Midterm-Jahre","6er-Jahre","2006"],"range":["#000000","#008000","#FFCC00","#FF0000"]},
   "legend":{"title":null,"orient":"none","legendX":981,"legendY":30,"symbolType":"M-1,0H5.3636","symbolSize":484,"symbolStrokeWidth":4,"labelFontSize":26,"labelFont":"Liberation Sans","labelColor":"black","labelOffset":53,"labelLimit":400,"strokeColor":"#808080","fillColor":"white","padding":8,"rowPadding":2,"symbolOffset":10}}}},
{"data":{"name":"serien"},"transform":[{"filter":"datum.Reihe === 'Midterm-Jahre'"}],
 "mark":{"type":"line","strokeWidth":4,"strokeJoin":"round","clip":true},
 "encoding":{"x":{"field":"Tag","type":"quantitative"},"y":{"field":"Wert","type":"quantitative"},"color":{"field":"Reihe","type":"nominal"}}},
{"data":{"name":"serien"},"transform":[{"filter":"datum.Reihe === '6er-Jahre'"}],
 "mark":{"type":"line","strokeWidth":4,"strokeJoin":"round","clip":true},
 "encoding":{"x":{"field":"Tag","type":"quantitative"},"y":{"field":"Wert","type":"quantitative"},"color":{"field":"Reihe","type":"nominal"}}},
{"data":{"name":"serien"},"transform":[{"filter":"datum.Reihe === '2006'"}],
 "mark":{"type":"line","strokeWidth":4,"strokeJoin":"round","clip":true},
 "encoding":{"x":{"field":"Tag","type":"quantitative"},"y":{"field":"Wert","type":"quantitative"},"color":{"field":"Reihe","type":"nominal"}}}
]
}
